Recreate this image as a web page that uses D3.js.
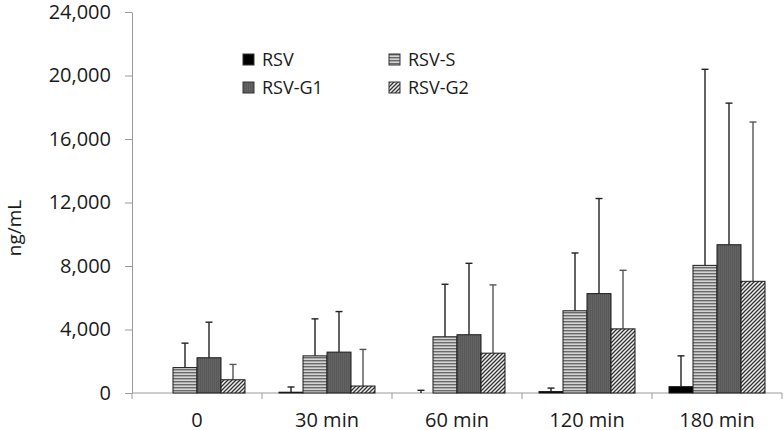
<!DOCTYPE html>
<html><head><meta charset="utf-8">
<script src="https://cdn.jsdelivr.net/npm/d3@7"></script>
<style>
html,body{margin:0;padding:0;background:#fff;}
text{font-family:"Open Sans",sans-serif;fill:#1a1a1a;}
</style></head>
<body>
<svg id="chart" width="784" height="430"></svg>
<script>
const categories = ["0", "30 min", "60 min", "120 min", "180 min"];
const seriesNames = ["RSV", "RSV-S", "RSV-G1", "RSV-G2"];
const rsvMean  = [0, 50, 0, 90, 400];
const rsvSD    = [0, 330, 170, 220, 1940];
const rsvSMean = [1600, 2340, 3540, 5180, 8040];
const rsvSSD   = [1540, 2330, 3310, 3640, 12350];
const rsvG1Mean = [2220, 2575, 3670, 6260, 9340];
const rsvG1SD   = [2240, 2555, 4500, 5990, 8920];
const rsvG2Mean = [835, 440, 2510, 4040, 7035];
const rsvG2SD   = [965, 2305, 4300, 3690, 10035];
const yTicks = [0, 4000, 8000, 12000, 16000, 20000, 24000];

const means = [rsvMean, rsvSMean, rsvG1Mean, rsvG2Mean];
const sds = [rsvSD, rsvSSD, rsvG1SD, rsvG2SD];

const svg = d3.select("#chart");
const defs = svg.append("defs");

const pS = defs.append("pattern").attr("id","pS").attr("patternUnits","userSpaceOnUse").attr("width",4).attr("height",3);
pS.append("rect").attr("width",4).attr("height",3).attr("fill","#d4d4d4");
pS.append("rect").attr("y",0).attr("width",4).attr("height",1.4).attr("fill","#6a6a6a");

const pG1 = defs.append("pattern").attr("id","pG1").attr("patternUnits","userSpaceOnUse").attr("width",2).attr("height",2);
pG1.append("rect").attr("width",2).attr("height",2).attr("fill","#646464");
pG1.append("rect").attr("width",1).attr("height",2).attr("fill","#585858");

const pG2 = defs.append("pattern").attr("id","pG2").attr("patternUnits","userSpaceOnUse").attr("width",4).attr("height",4);
pG2.append("rect").attr("width",4).attr("height",4).attr("fill","#f0f0f0");
pG2.append("path").attr("d","M-1,1 l2,-2 M0,4 l4,-4 M3,5 l2,-2").attr("stroke","#333").attr("stroke-width",1.3);

const fills = ["#000000", "url(#pS)", "url(#pG1)", "url(#pG2)"];

const x0 = d3.scaleBand().domain(categories).range([132, 782]).padding(0);
const x1 = d3.scaleBand().domain(seriesNames).range([17, 113]).padding(0);
const y = d3.scaleLinear().domain([0, 24000]).range([393, 12]);

const yAxis = d3.axisLeft(y).tickValues(yTicks).tickFormat(d3.format(",")).tickSizeInner(7).tickSizeOuter(0).tickPadding(14);
const gy = svg.append("g").attr("transform","translate(132,0)").call(yAxis);
gy.select(".domain").attr("stroke","#9a9a9a");
gy.selectAll(".tick line").attr("stroke","#9a9a9a");
gy.selectAll(".tick text").attr("font-size",20).attr("font-family","Open Sans").attr("fill","#1a1a1a");

const gx = svg.append("g").attr("transform","translate(0,393)");
gx.append("line").attr("x1",132).attr("x2",782).attr("stroke","#9a9a9a");
const bounds = categories.map(c => x0(c)).concat([x0(categories[categories.length-1]) + x0.bandwidth()]);
gx.selectAll("line.tk").data(bounds).enter().append("line").attr("class","tk")
  .attr("x1",d=>d).attr("x2",d=>d).attr("y1",0).attr("y2",6).attr("stroke","#9a9a9a");
gx.selectAll("text").data(categories).enter().append("text")
  .attr("x",d=>x0(d)+x0.bandwidth()/2).attr("y",33.5).attr("text-anchor","middle")
  .attr("font-size",20).text(d=>d);

const groups = svg.append("g").selectAll("g").data(categories).enter().append("g")
  .attr("transform",c=>`translate(${x0(c)},0)`);

seriesNames.forEach((s, si) => {
  groups.each(function(c, ci){
    const g = d3.select(this);
    const m = means[si][ci], sd = sds[si][ci];
    const bx = x1(s), bw = x1.bandwidth();
    if (sd > 0) {
      const cx = bx + bw/2;
      g.append("line").attr("x1",cx).attr("x2",cx).attr("y1",y(m)).attr("y2",y(m+sd))
        .attr("stroke", si===3 ? "#555" : "#222").attr("stroke-width",1.4);
      g.append("line").attr("x1",cx-3.5).attr("x2",cx+3.5).attr("y1",y(m+sd)).attr("y2",y(m+sd))
        .attr("stroke", si===3 ? "#555" : "#222").attr("stroke-width",1.4);
    }
    if (m > 0) {
      g.append("rect").attr("x",bx).attr("width",bw).attr("y",y(m)).attr("height",y(0)-y(m))
        .attr("fill",fills[si]).attr("stroke","#1a1a1a").attr("stroke-width",1);
    }
  });
});

const legPos = [[243,54],[389,54],[243,82],[389,82]];
const leg = svg.append("g");
seriesNames.forEach((s, i) => {
  const [lx, ly] = legPos[i];
  leg.append("rect").attr("x",lx).attr("y",ly).attr("width",11).attr("height",11)
    .attr("fill",fills[i]).attr("stroke","#333").attr("stroke-width",1);
  leg.append("text").attr("x",lx+19).attr("y",ly+11.5).attr("font-size",18).text(s);
});

svg.append("text").attr("transform","translate(21,228) rotate(-90)").attr("text-anchor","middle")
  .attr("font-size",19).text("ng/mL");
</script>
</body></html>
